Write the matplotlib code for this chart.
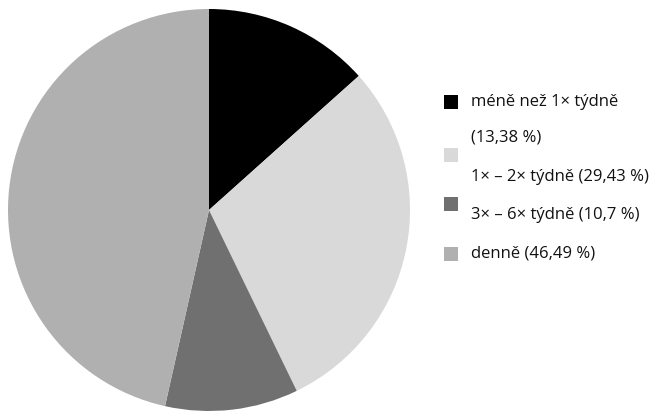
import matplotlib.pyplot as plt
from matplotlib.patches import Rectangle

# Frequency shares, in percent
labels = ["méně než 1× týdně", "1× – 2× týdně", "3× – 6× týdně", "denně"]
shares = [13.38, 29.43, 10.7, 46.49]
colors = ["#000000", "#d9d9d9", "#707070", "#b0b0b0"]

W, H = 657, 411
fig = plt.figure(figsize=(W / 100, H / 100), dpi=100)
ax = fig.add_axes([0, 0, 1, 1])

ax.pie(shares, colors=colors, startangle=90, counterclock=False,
       center=(209, H - 210), radius=201, frame=True,
       wedgeprops=dict(linewidth=0))
ax.set_xlim(0, W)
ax.set_ylim(0, H)
ax.set_aspect("equal")
ax.axis("off")


def fmt(v):
    return f"{v:g}".replace(".", ",")


# legend lines, wrapped the way the original layout breaks them
lines = [labels[0], f"({fmt(shares[0])} %)",
         f"{labels[1]} ({fmt(shares[1])} %)",
         f"{labels[2]} ({fmt(shares[2])} %)",
         f"{labels[3]} ({fmt(shares[3])} %)"]
line_y = [102, 137, 177, 215, 253]
box_y = [102, 155, 204, 254]

for text, y in zip(lines, line_y):
    ax.text(471, H - y, text, fontsize=12, family="Open Sans",
            va="center", ha="left", color="#111111")

for c, y in zip(colors, box_y):
    ax.add_patch(Rectangle((444, H - y - 7), 14, 14, facecolor=c,
                           edgecolor="none"))

fig.savefig("out.png", dpi=100)
